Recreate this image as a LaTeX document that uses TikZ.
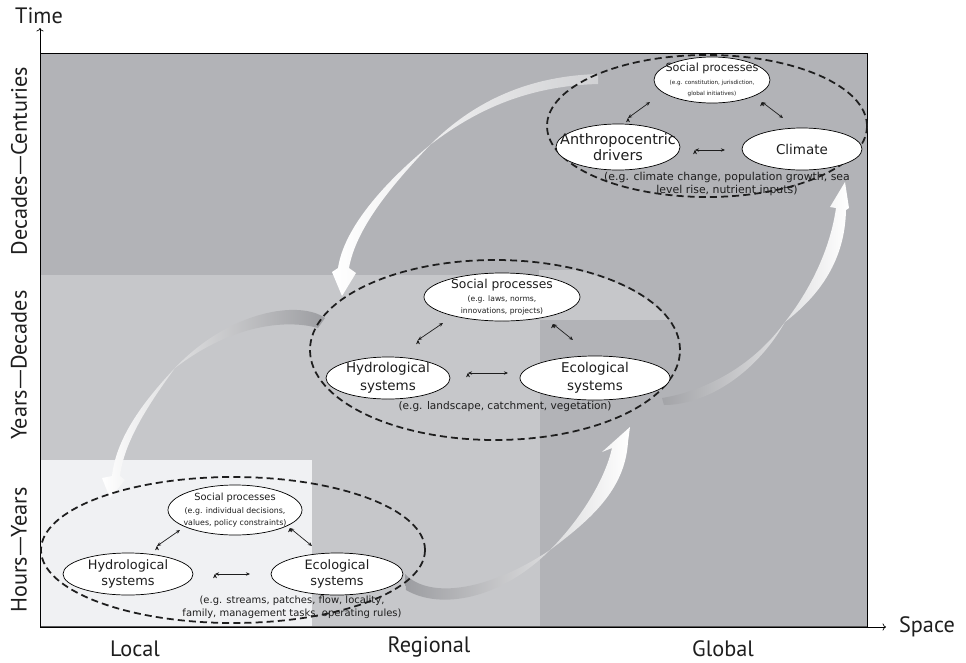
\documentclass[tikz,border=0pt]{standalone}
\usepackage{fontspec}
\setmainfont{DejaVu Sans}
\newfontfamily\axisfont{PT Sans}
\newfontfamily\dashfont{DejaVu Sans}
\usetikzlibrary{shapes.geometric,calc,arrows.meta}

\definecolor{topgray}{HTML}{B2B3B7}
\definecolor{reggray}{HTML}{C6C7CA}
\definecolor{locgray}{HTML}{F0F1F3}
\definecolor{tailgray}{HTML}{9C9DA1}
\definecolor{inkgray}{HTML}{1E1E1E}

\newcommand{\emd}{{\dashfont\fontsize{17}{20}\selectfont —}}

\tikzset{
  zone/.style={draw=inkgray,ellipse,line width=1.5pt,dash pattern=on 6pt off 3.5pt,inner sep=0pt},
  blob/.style={draw=black,fill=white,ellipse,line width=0.6pt,inner sep=0pt},
  dblarrow/.style={{Stealth[length=3.5pt,width=3pt]}-{Stealth[length=3.5pt,width=3pt]},line width=0.6pt,draw=inkgray},
  note/.style={align=center,inner sep=0pt,text=inkgray},
  axislabel/.style={font=\axisfont\fontsize{19}{22}\selectfont,text=inkgray,inner sep=0pt}
}

\begin{document}
\begin{tikzpicture}[x=0.03cm,y=-0.03cm]
  \useasboundingbox (0,0) rectangle (966,663);
  % scale bands
  \fill[topgray] (40,53) rectangle (867,627);
  \fill[reggray] (40,275) rectangle (540,627);
  \begin{scope}
    \clip (495,350) ellipse [x radius=184,y radius=89];
    \fill[reggray] (539,270) rectangle (700,320);
  \end{scope}
  \fill[locgray] (40,460) rectangle (312,627);
  \draw[line width=0.6pt] (40,53) -- (867,53) -- (867,627);
  \draw[line width=1.8pt,black!65] (40,627) -- (867,627);
  \draw[->,line width=0.6pt] (40,627) -- (40,28);
  \draw[->,line width=0.6pt] (40,627) -- (886,627);
  % axis labels
  \node[axislabel] (timeLbl) at (39,16) {Time};
  \node[axislabel] (spaceLbl) at (927,627) {Space};
  \node[axislabel] (localLbl) at (135,649) {Local};
  \node[axislabel] (regionalLbl) at (429,647) {Regional};
  \node[axislabel] (globalLbl) at (723,649) {Global};
  \node[axislabel,rotate=90] (decCentLbl) at (19,161) {Decades\emd Centuries};
  \node[axislabel,rotate=90] (yearDecLbl) at (19,365) {Years\emd Decades};
  \node[axislabel,rotate=90] (hourYearLbl) at (19,550) {Hours\emd Years};

  % fading scale arrows
  \shade[left color=tailgray,right color=white] (405,574) .. controls (430,600) and (490,590) .. (550,550)
    .. controls (580,520) and (605,480) .. (612,448) -- (602,452) -- (630,427) -- (628,442)
    .. controls (625,490) and (590,520) .. (550,550) .. controls (500,600) and (440,610) .. (406,590) -- cycle;
  \shade[left color=tailgray!70!topgray,right color=white] (662,398) .. controls (700,392) and (750,370) .. (785,322)
    .. controls (810,290) and (830,250) .. (836,208) -- (830,207) -- (845,182) -- (849,208) -- (846,210)
    .. controls (845,260) and (820,295) .. (785,322) .. controls (755,375) and (705,405) .. (664,405) -- cycle;
  \shade[left color=white,right color=topgray!60!white] (598,74) .. controls (530,76) and (475,100) .. (430,145)
    .. controls (392,185) and (356,228) .. (349,268) -- (356,273) -- (342,296) -- (332,272) -- (338,268)
    .. controls (344,228) and (384,183) .. (430,145) .. controls (478,108) and (530,86) .. (598,84) -- cycle;
  \shade[left color=white,right color=tailgray] (325,318) .. controls (300,300) and (230,310) .. (175,368)
    .. controls (140,405) and (116,440) .. (112,476) -- (102,478) -- (110,498) -- (125,480) -- (120,476)
    .. controls (124,442) and (148,405) .. (175,368) .. controls (235,322) and (290,320) .. (318,328) -- cycle;

  % global scale
  \node[zone,minimum width=9.6cm,minimum height=4.26cm] (gZone) at (707,126) {};
  \node[blob,minimum width=3.48cm,minimum height=1.38cm,
    label={[note]center:{{\fontsize{9.6}{11}\selectfont Social processes}\\[-1pt]
      {\fontsize{4.8}{5.5}\selectfont (e.g. constitution, jurisdiction,}\\[-3pt]
      {\fontsize{4.8}{5.5}\selectfont global initiatives)}}}] (gSocial) at (712,80) {};
  \node[blob,minimum width=3.72cm,minimum height=1.38cm,
    label={[note,font=\fontsize{12.3}{14}\selectfont]center:{Anthropocentric\\drivers}}] (gAnthro) at (618,147) {};
  \node[blob,minimum width=3.6cm,minimum height=1.26cm,
    label={[note,font=\fontsize{11.5}{13}\selectfont]center:{Climate}}] (gClimate) at (802,149) {};
  \node[note,font=\fontsize{9.3}{11}\selectfont] (gNote) at (727,184)
    {(e.g. climate change, population growth, sea\\level rise, nutrient inputs)};
  \path[dblarrow] ($(gAnthro)+(10,-29)$) edge ($(gSocial)+(-62,22)$);
  \path[dblarrow] ($(gSocial)+(50,22)$) edge ($(gClimate)+(-19,-31)$);
  \path[dblarrow] ($(gAnthro)+(77,3)$) edge ($(gClimate)+(-77,1)$);

  % regional scale
  \node[zone,minimum width=11.1cm,minimum height=5.4cm] (mZone) at (495,350) {};
  \node[blob,minimum width=4.68cm,minimum height=1.44cm,
    label={[note]center:{{\fontsize{10.5}{12}\selectfont Social processes}\\[-1pt]
      {\fontsize{6.5}{8}\selectfont (e.g. laws, norms,}\\[-2pt]
      {\fontsize{6.5}{8}\selectfont innovations, projects)}}}] (mSocial) at (502,297) {};
  \node[blob,minimum width=3.72cm,minimum height=1.26cm,
    label={[note,font=\fontsize{11.5}{15}\selectfont]center:{Hydrological\\systems}}] (mHydro) at (388,378) {};
  \node[blob,minimum width=4.5cm,minimum height=1.32cm,
    label={[note,font=\fontsize{11.5}{15}\selectfont]center:{Ecological\\systems}}] (mEco) at (595,378) {};
  \node[note,font=\fontsize{9}{11}\selectfont] (mNote) at (505,407)
    {(e.g. landscape, catchment, vegetation)};
  \path[dblarrow] ($(mHydro)+(30,-38)$) edge ($(mSocial)+(-59,26)$);
  \path[dblarrow] ($(mSocial)+(51,27)$) edge ($(mEco)+(-22,-38)$);
  \path[dblarrow] ($(mHydro)+(80,-5)$) edge ($(mEco)+(-87,-5)$);

  % local scale
  \node[zone,minimum width=11.52cm,minimum height=4.38cm] (lZone) at (233,550) {};
  \node[blob,minimum width=4.02cm,minimum height=1.5cm,
    label={[note]center:{{\fontsize{8.4}{10}\selectfont Social processes}\\[-1pt]
      {\fontsize{6.7}{8}\selectfont (e.g. individual decisions,}\\[-2pt]
      {\fontsize{6.7}{8}\selectfont values, policy constraints)}}}] (lSocial) at (235,510) {};
  \node[blob,minimum width=3.9cm,minimum height=1.26cm,
    label={[note,font=\fontsize{11}{14}\selectfont]center:{Hydrological\\systems}}] (lHydro) at (128,574) {};
  \node[blob,minimum width=3.96cm,minimum height=1.26cm,
    label={[note,font=\fontsize{11}{14}\selectfont]center:{Ecological\\systems}}] (lEco) at (337,574) {};
  \node[note,font=\fontsize{8.5}{11}\selectfont] (lNote) at (292,607)
    {(e.g. streams, patches, flow, locality,\\family, management tasks, operating rules)};
  \path[dblarrow] ($(lHydro)+(29,-28)$) edge ($(lSocial)+(-55,20)$);
  \path[dblarrow] ($(lSocial)+(55,18)$) edge ($(lEco)+(-25,-28)$);
  \path[dblarrow] ($(lHydro)+(87,0)$) edge ($(lEco)+(-87,0)$);
\end{tikzpicture}
\end{document}
